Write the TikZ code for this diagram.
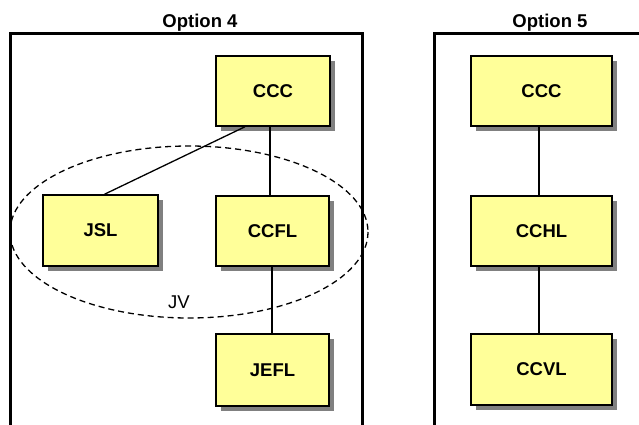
\documentclass[tikz,border=0pt]{standalone}
\usepackage{fontspec}
\setmainfont{Liberation Sans}
\usetikzlibrary{shadows}
\definecolor{boxfill}{RGB}{255,255,153}
\definecolor{shadowgray}{RGB}{128,128,128}
\tikzset{
  unitbox/.style={draw=black, line width=1.5pt, fill=boxfill, minimum width=114pt,
    minimum height=70pt, inner sep=0pt, font=\fontsize{18.5}{22}\selectfont\bfseries,
    drop shadow={shadow xshift=5pt, shadow yshift=-5pt, fill=shadowgray, opacity=1}},
  widebox/.style={unitbox, minimum width=141pt},
  frameline/.style={line width=3pt},
  link/.style={line width=1.3pt},
  title/.style={font=\fontsize{18.5}{22}\selectfont\bfseries, inner sep=0pt},
  grouping/.style={dashed, dash pattern=on 6pt off 4pt, line width=1.3pt}
}
\begin{document}
\begin{tikzpicture}[x=1pt,y=-1pt]
\useasboundingbox (0,0) rectangle (639,425);
\clip (0,0) rectangle (639,425);

% Option 4 panel
\node[title] (t4) at (200,23) {Option 4};
\draw[frameline] (10,440) -- (10,33.5) -- (362,33.5) -- (362,440);

% JV grouping
\draw[grouping] (189,232) ellipse [x radius=179, y radius=86];
\node[font=\fontsize{18.5}{22}\selectfont, inner sep=0pt] (jv) at (179,302) {JV};

\node[unitbox] (ccc4) at (273,91) {CCC};
\node[unitbox, minimum width=115pt, minimum height=71pt] (jsl) at (100.5,230.5) {JSL};
\node[unitbox, minimum width=113pt] (ccfl) at (272.5,231) {CCFL};
\node[unitbox, minimum width=113pt, minimum height=72pt] (jefl) at (272.5,370) {JEFL};

\draw[link] ([xshift=-28pt]ccc4.south) -- ([xshift=4pt]jsl.north);
\draw[link] ([xshift=-3pt]ccc4.south) -- ([xshift=-2.5pt]ccfl.north);
\draw[link] ([xshift=-0.5pt]ccfl.south) -- ([xshift=-0.5pt]jefl.north);

% Option 5 panel
\node[title] (t5) at (550,23) {Option 5};
\draw[frameline] (434,440) -- (434,33.5) -- (660,33.5);

\node[widebox] (ccc5) at (541.5,91) {CCC};
\node[widebox] (cchl) at (541.5,231) {CCHL};
\node[widebox, minimum height=71pt] (ccvl) at (541.5,369.5) {CCVL};

\draw[link] ([xshift=-2.5pt]ccc5.south) -- ([xshift=-2.5pt]cchl.north);
\draw[link] ([xshift=-2.5pt]cchl.south) -- ([xshift=-2.5pt]ccvl.north);
\end{tikzpicture}
\end{document}
